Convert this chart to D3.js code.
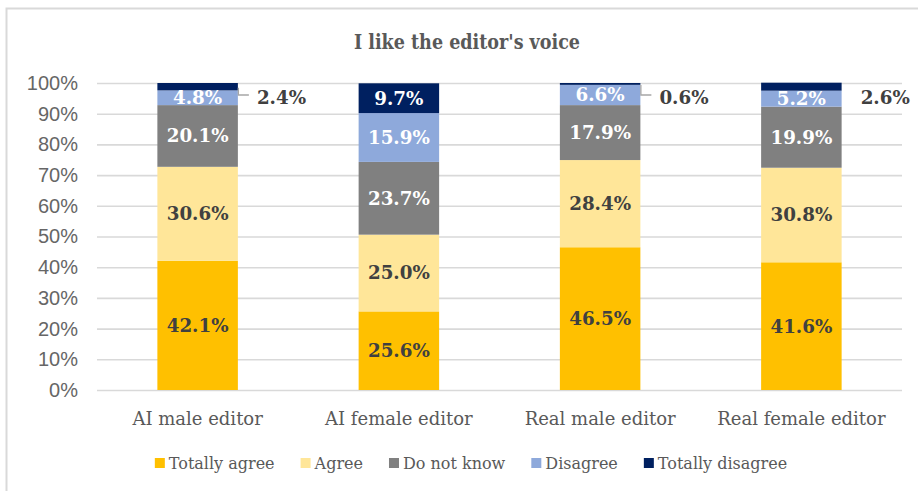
<!DOCTYPE html>
<html>
<head>
<meta charset="utf-8">
<script src="https://cdn.jsdelivr.net/npm/d3@7"></script>
<style>
  html, body { margin: 0; padding: 0; background: #fff; }
  svg { display: block; }
</style>
</head>
<body>
<svg id="chart" width="918" height="491"></svg>
<script>
// Survey responses per editor type (percent of respondents)
const categories = ["AI male editor", "AI female editor", "Real male editor", "Real female editor"];
const seriesNames = ["Totally agree", "Agree", "Do not know", "Disagree", "Totally disagree"];
const totallyAgree    = [42.1, 25.6, 46.5, 41.6];
const agree           = [30.6, 25.0, 28.4, 30.8];
const doNotKnow       = [20.1, 23.7, 17.9, 19.9];
const disagree        = [4.8, 15.9, 6.6, 5.2];
const totallyDisagree = [2.4, 9.7, 0.6, 2.6];
const yTicks = [0, 10, 20, 30, 40, 50, 60, 70, 80, 90, 100];
const seriesColors = ["#FFC000", "#FFE699", "#808080", "#8EA9DB", "#002060"];
const labelColors  = ["#404040", "#404040", "#ffffff", "#ffffff", "#ffffff"];
// small top segments get their label beside the bar; some with a leader line
const leaderLine = [true, false, true, false];

const seriesValues = [totallyAgree, agree, doNotKnow, disagree, totallyDisagree];
const rows = categories.map((c, i) => {
  const r = { category: c };
  seriesNames.forEach((s, k) => { r[s] = seriesValues[k][i]; });
  return r;
});

const svg = d3.select("#chart");
const W = 918, H = 491;
const plot = { left: 97, right: 902, top: 83, bottom: 390 };
const textGray = "#595959";
const serif = "'DejaVu Serif', serif";

// chart frame
svg.append("rect")
  .attr("x", 6.5).attr("y", 8.5)
  .attr("width", W + 20).attr("height", H + 20)
  .attr("fill", "#fff").attr("stroke", "#d9d9d9").attr("stroke-width", 2);

// title
svg.append("text")
  .attr("x", 467).attr("y", 48.5)
  .attr("text-anchor", "middle")
  .attr("font-family", "'DejaVu Serif Condensed', 'DejaVu Serif', serif")
  .attr("font-weight", "bold")
  .attr("font-size", 19.5)
  .attr("fill", textGray)
  .text("I like the editor's voice");

const x = d3.scaleBand().domain(categories).range([plot.left, plot.right]).paddingInner(0.6).paddingOuter(0.3);
const y = d3.scaleLinear().domain([0, 100]).range([plot.bottom, plot.top]);

// gridlines + y labels
const yAxis = d3.axisLeft(y).tickValues(yTicks).tickFormat(d => d + "%")
  .tickSize(-(plot.right - plot.left)).tickPadding(19);
const gy = svg.append("g").attr("transform", `translate(${plot.left},0)`).call(yAxis);
gy.select(".domain").remove();
gy.selectAll(".tick line").attr("stroke", "#d9d9d9").attr("stroke-width", 1.6);
gy.selectAll(".tick text")
  .attr("font-family", "'Liberation Sans', Arial, sans-serif")
  .attr("font-size", 20)
  .attr("fill", "#666666");

// x category labels
const xAxis = d3.axisBottom(x).tickSize(0).tickPadding(22);
const gx = svg.append("g").attr("transform", `translate(0,${plot.bottom})`).call(xAxis);
gx.select(".domain").remove();
gx.selectAll(".tick text")
  .attr("font-family", serif)
  .attr("font-size", 18)
  .attr("fill", textGray);

// stacked bars
const stack = d3.stack().keys(seriesNames)(rows);
const layers = svg.append("g").selectAll("g").data(stack).join("g")
  .attr("fill", (d, k) => seriesColors[k]);
layers.selectAll("rect").data(d => d).join("rect")
  .attr("x", d => x(d.data.category))
  .attr("width", x.bandwidth())
  .attr("y", d => y(d[1]))
  .attr("height", d => y(d[0]) - y(d[1]));

// data labels
const labelFont = { family: serif, size: 18.3 };
stack.forEach((layer, k) => {
  layer.forEach((d, i) => {
    const v = d[1] - d[0];
    const txt = v.toFixed(1) + "%";
    const isTop = k === seriesNames.length - 1;
    if (isTop && v < 5) {
      const bx = x(d.data.category) + x.bandwidth();
      const ly = y(100) + 14.5;
      if (leaderLine[i]) {
        const my = y((d[0] + d[1]) / 2);
        svg.append("path")
          .attr("d", `M${bx + 0.5},${my + 1}V${ly - 2.5}H${bx + 11}`)
          .attr("fill", "none").attr("stroke", "#a6a6a6").attr("stroke-width", 1.3);
      }
      svg.append("text")
        .attr("x", bx + 19).attr("y", ly).attr("dy", "0.35em")
        .attr("font-family", labelFont.family).attr("font-weight", "bold")
        .attr("font-size", labelFont.size).attr("fill", "#404040")
        .text(txt);
    } else {
      svg.append("text")
        .attr("x", x(d.data.category) + x.bandwidth() / 2)
        .attr("y", y((d[0] + d[1]) / 2)).attr("dy", "0.35em")
        .attr("text-anchor", "middle")
        .attr("font-family", labelFont.family).attr("font-weight", "bold")
        .attr("font-size", labelFont.size).attr("fill", labelColors[k])
        .text(txt);
    }
  });
});

// legend
const legend = svg.append("g");
let cursor = 0;
seriesNames.forEach((s, k) => {
  const g = legend.append("g").attr("transform", `translate(${cursor},0)`);
  g.append("rect").attr("x", 0).attr("y", -5).attr("width", 10).attr("height", 10)
    .attr("fill", seriesColors[k]);
  const t = g.append("text").attr("x", 14).attr("y", 0).attr("dy", "0.35em")
    .attr("font-family", serif).attr("font-size", 16).attr("fill", textGray)
    .text(s);
  cursor += 14 + t.node().getComputedTextLength() + 26;
});
const legendWidth = cursor - 26;
legend.attr("transform", `translate(${471 - legendWidth / 2},463)`);
</script>
</body>
</html>
